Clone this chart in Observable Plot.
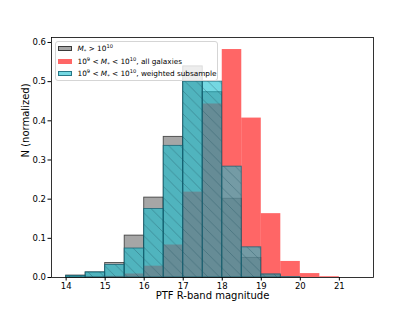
<!DOCTYPE html>
<html><head><meta charset="utf-8">
<script src="https://cdn.jsdelivr.net/npm/d3@7"></script>
<script src="https://cdn.jsdelivr.net/npm/@observablehq/plot@0.6"></script>
<style>
html,body{margin:0;padding:0;background:#fff;}
#wrap{position:relative;width:415px;height:312px;font-family:"DejaVu Sans",sans-serif;}
#legend{position:absolute;left:55px;top:41px;width:161px;height:38px;border:1px solid #d5d5d5;border-radius:3px;background:rgba(255,255,255,0.8);font-size:7.3px;color:#000;}
.row{position:absolute;left:2px;height:10px;display:flex;align-items:center;white-space:nowrap;}
.sw{width:14px;height:5px;margin-right:5.5px;box-sizing:border-box;}
sub,sup{font-size:70%;line-height:0;}
</style></head>
<body>
<div id="wrap">
<div id="chart"></div>
<div id="legend"></div>
</div>
<script>
// Bin edges (PTF R-band magnitude)
const binLo = [14, 14.5, 15, 15.5, 16, 16.5, 17, 17.5, 18, 18.5, 19, 19.5, 20, 20.5, 21];
const binHi = [14.5, 15, 15.5, 16, 16.5, 17, 17.5, 18, 18.5, 19, 19.5, 20, 20.5, 21, 21.5];
// Normalized counts
const massive  = [0.005, 0.013, 0.037, 0.107, 0.204, 0.359, 0.539, 0.473, 0.201, 0.050, 0.006, 0, 0, 0, 0];
const allGal   = [0, 0.001, 0.003, 0.009, 0.029, 0.083, 0.218, 0.443, 0.582, 0.407, 0.163, 0.041, 0.010, 0.002, 0];
const weighted = [0.004, 0.013, 0.032, 0.074, 0.175, 0.336, 0.500, 0.500, 0.283, 0.077, 0.008, 0.001, 0, 0, 0];
// Ticks and labels
const xTicks = [14, 15, 16, 17, 18, 19, 20, 21];
const yTicks = [0, 0.1, 0.2, 0.3, 0.4, 0.5, 0.6];
const xLabel = "PTF R-band magnitude";
const yLabel = "N (normalized)";
const seriesNames = [
  '<i>M</i><sub>*</sub> &gt; 10<sup>10</sup>',
  '10<sup>9</sup> &lt; <i>M</i><sub>*</sub> &lt; 10<sup>10</sup>, all galaxies',
  '10<sup>9</sup> &lt; <i>M</i><sub>*</sub> &lt; 10<sup>10</sup>, weighted subsample'
];

const mk = vals => binLo.map((lo, i) => ({x1: lo, x2: binHi[i], v: vals[i]}));
const base = {x1: "x1", x2: "x2", y1: 0, y2: "v"};

const chart = Plot.plot({
  width: 415, height: 312,
  marginLeft: 51, marginRight: 42, marginTop: 37, marginBottom: 35,
  style: {fontFamily: "DejaVu Sans", fontSize: "8.5px", color: "#000", background: "transparent"},
  x: {domain: [13.625, 21.875], ticks: xTicks, tickSize: 3.5, tickPadding: 2, tickFormat: d => String(d), label: null},
  y: {domain: [0, 0.6127], ticks: yTicks, tickSize: 3.5, tickPadding: 2, tickFormat: d => d.toFixed(1), label: null},
  marks: [
    Plot.rect(mk(massive), {...base, fill: "#808080", fillOpacity: 0.7, stroke: "#000", strokeOpacity: 0.65, strokeWidth: 0.9}),
    Plot.rect(mk(allGal), {...base, fill: "#ff0000", fillOpacity: 0.6}),
    Plot.rect(mk(weighted), {...base, fill: "#17becf", fillOpacity: 0.6}),
    Plot.rect(mk(weighted), {...base, fill: "url(#hatchC)", stroke: "#135f70", strokeOpacity: 0.8, strokeWidth: 0.9}),
    Plot.frame({stroke: "#000", strokeWidth: 0.8}),
    Plot.text([xLabel], {frameAnchor: "bottom", dy: 21, fontSize: 10, fill: "#000"}),
    Plot.text([yLabel], {frameAnchor: "left", dx: -26, rotate: -90, fontSize: 10, fill: "#000"})
  ]
});

const svg = d3.select(chart);
const defs = svg.insert("defs", ":first-child");
const p = defs.append("pattern").attr("id", "hatchC").attr("patternUnits", "userSpaceOnUse")
  .attr("width", 11.5).attr("height", 11.5);
p.append("path").attr("d", "M0,0L11.5,11.5M-2,9.5L2,13.5M9.5,-2L13.5,2")
  .attr("stroke", "#1d4f5c").attr("stroke-opacity", 0.5).attr("stroke-width", 0.7).attr("fill", "none");
document.getElementById("chart").appendChild(chart);

const swStyles = [
  "background:rgba(128,128,128,0.7);border:0.9px solid rgba(0,0,0,0.65);",
  "background:rgba(255,0,0,0.6);",
  "background:rgba(23,190,207,0.6);border:0.9px solid rgba(19,95,112,0.8);"
];
const rowTops = [1.5, 14, 26];
const leg = d3.select("#legend");
seriesNames.forEach((s, i) => {
  const r = leg.append("div").attr("class", "row").style("top", rowTops[i] + "px");
  r.append("div").attr("class", "sw").attr("style", swStyles[i]);
  r.append("span").html(s);
});
</script>
</body></html>
